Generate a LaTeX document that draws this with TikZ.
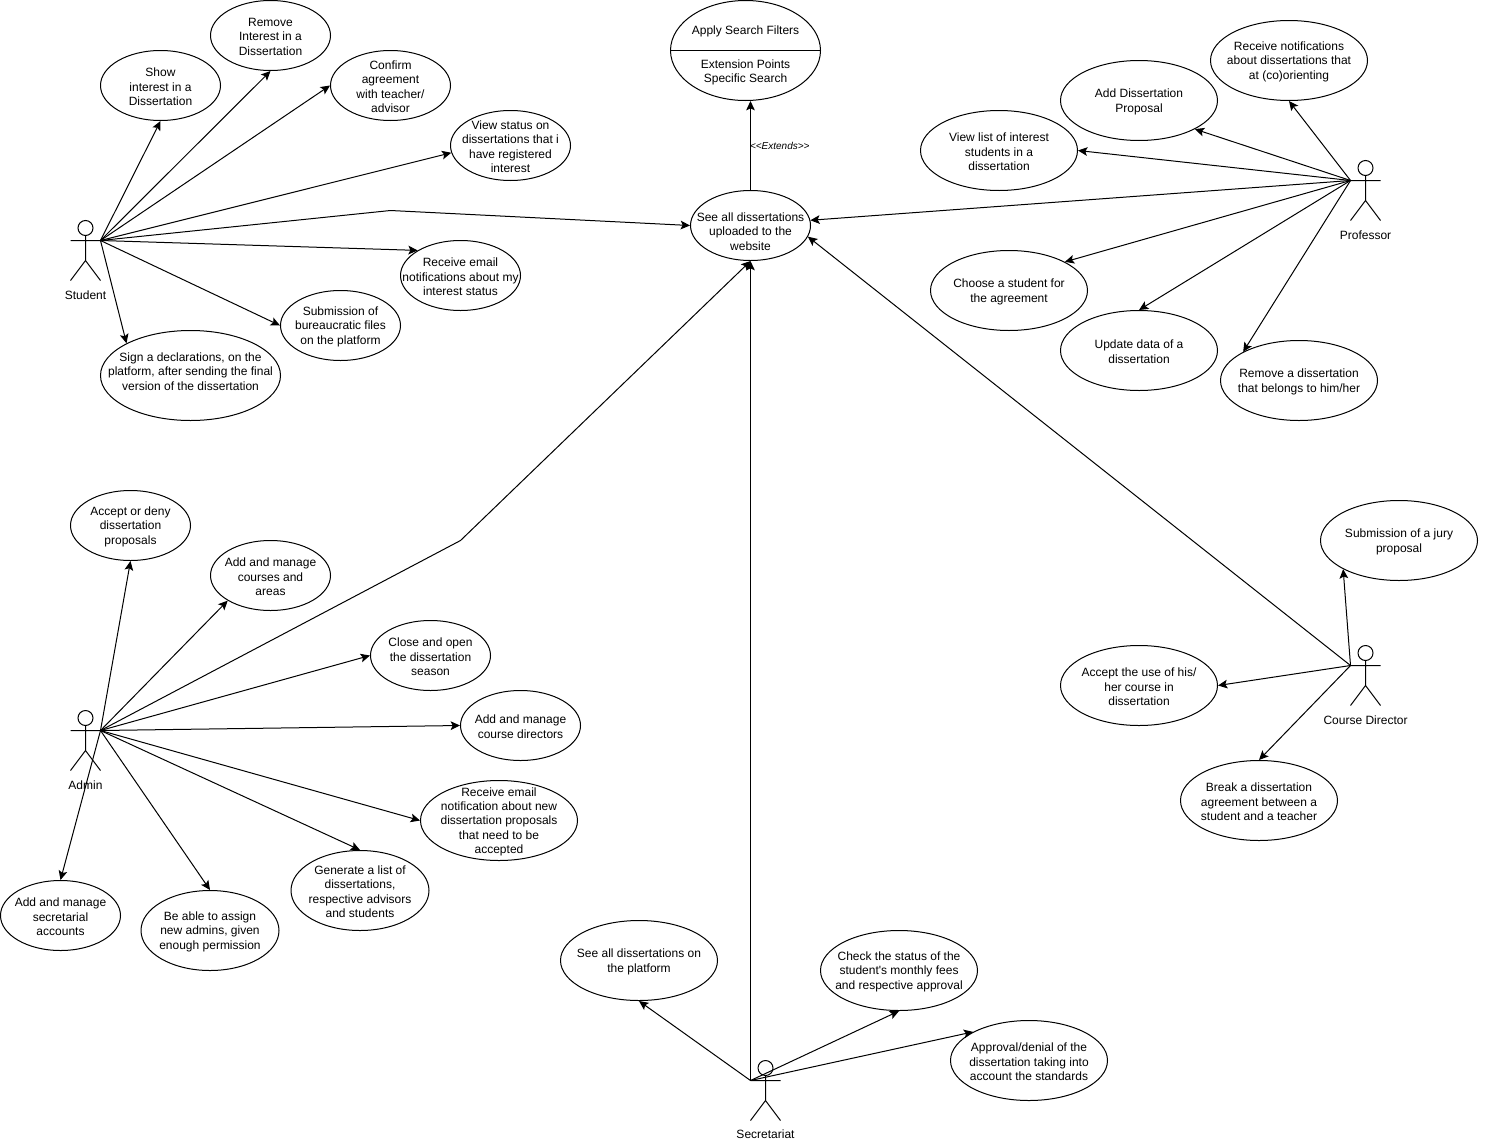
\documentclass[tikz,border=0pt]{standalone}
\usepackage{fontspec}
\usetikzlibrary{shapes.geometric, arrows.meta, positioning, calc}
\newfontfamily\ucfont{Liberation Sans}

\begin{document}
\begin{tikzpicture}[
  x=0.75pt, y=-0.75pt,
  line width=0.75pt,
  uctext/.style={font=\ucfont\fontsize{9}{10.8}\selectfont, align=center, inner sep=0pt},
  uclabel/.style={uctext, yshift=-1pt},
  ucsmall/.style={draw, ellipse, inner sep=0pt, minimum width=90pt, minimum height=52.5pt},
  ucwide/.style={draw, ellipse, inner sep=0pt, minimum width=117.75pt, minimum height=60pt},
  ucnarrow/.style={draw, ellipse, inner sep=0pt, minimum width=103.5pt, minimum height=60pt},
  flow/.style={-{Stealth[length=7pt, width=6.5pt, inset=1.5pt]}},
  stickman/.pic={
    \draw (15,7.5) circle [radius=7.5];
    \draw (15,15) -- (15,40) (0,20) -- (30,20) (0,60) -- (15,40) -- (30,60);
    \coordinate (-hand) at (0,20);
    \coordinate (-rhand) at (30,20);
  }
]
  \useasboundingbox (-0.5,-0.5) rectangle (1490.5,1141.5);

  % Actors
  \pic (student) at (70,220) {stickman};
  \pic (professor) at (1350,160) {stickman};
  \pic (director) at (1350,645) {stickman};
  \pic (admin) at (70,710) {stickman};
  \pic (secretariat) at (750,1060) {stickman};
  \node[uctext] (studentname) at (85,295) {Student};
  \node[uctext] (professorname) at (1365,235) {Professor};
  \node[uctext] (directorname) at (1365,720) {Course Director};
  \node[uctext] (adminname) at (85,785) {Admin};
  \node[uctext] (secretariatname) at (765,1134) {Secretariat};

  % Centre
  \node[ucsmall, label={[uctext, yshift=-4.5pt]center:See all dissertations\\uploaded to the\\website}] (seeall) at (750,225) {};
  \node[draw, ellipse, inner sep=0pt, minimum width=112.5pt, minimum height=75pt] (apply) at (745,50) {};
  \draw (apply.west) -- (apply.east);
  \node[uctext] (applytitle) at (745,31) {Apply Search Filters};
  \node[uctext] (applyext) at (745,72) {Extension Points\\Specific Search};
  \draw[flow] (seeall.north) -- (seeall.north |- apply.south) node[midway, right, xshift=-0.75pt, font=\ucfont\itshape\fontsize{7.5}{9}\selectfont, inner sep=0pt] (extends) {<<Extends>>};

  % Student
  \node[ucsmall, label={[uclabel]center:Show\\interest in a\\Dissertation}] (show) at (160,85) {};
  \node[ucsmall, label={[uclabel]center:Remove\\Interest in a\\Dissertation}] (removeint) at (270,35) {};
  \node[ucsmall, label={[uclabel]center:Confirm\\agreement\\with teacher/\\advisor}] (confirm) at (390,85) {};
  \node[ucsmall, label={[uclabel]center:View status on\\dissertations that i\\have registered\\interest}] (status) at (510,145) {};
  \node[ucsmall, label={[uclabel]center:Receive email\\notifications about my\\interest status}] (mailstudent) at (460,275) {};
  \node[ucsmall, label={[uclabel]center:Submission of\\bureaucratic files\\on the platform}] (bureau) at (340,325) {};
  \node[draw, ellipse, inner sep=0pt, minimum width=135pt, minimum height=67.5pt, label={[uctext, yshift=3pt]center:Sign a declarations, on the\\platform, after sending the final\\version of the dissertation}] (sign) at (190,375) {};
  \coordinate (studentbend) at (390,210);
  \draw[flow] (student-rhand) -- (show.south);
  \draw[flow] (student-rhand) -- (removeint.south);
  \draw[flow] (student-rhand) -- (confirm.west);
  \draw[flow] (student-rhand) -- (status.187);
  \draw[flow] (student-rhand) -- (studentbend) -- (seeall.west);
  \draw[flow] (student-rhand) -- (mailstudent.north west);
  \draw[flow] (student-rhand) -- (bureau.west);
  \draw[flow] (student-rhand) -- (sign.north west);

  % Professor
  \node[ucwide, label={[uclabel]center:Add Dissertation\\Proposal}] (addprop) at (1138.5,100) {};
  \node[ucwide, label={[uclabel]center:Receive notifications\\about dissertations that\\at (co)orienting}] (notify) at (1288.5,60) {};
  \node[ucwide, label={[uclabel]center:View list of interest\\students in a\\dissertation}] (viewlist) at (998.5,150) {};
  \node[ucwide, label={[uclabel]center:Choose a student for\\the agreement}] (choose) at (1008.5,290) {};
  \node[ucwide, label={[uclabel]center:Update data of a\\dissertation}] (update) at (1138.5,350) {};
  \node[ucwide, label={[uclabel]center:Remove a dissertation\\that belongs to him/her}] (removediss) at (1298.5,380) {};
  \draw[flow] (professor-hand) -- (addprop.south east);
  \draw[flow] (professor-hand) -- (notify.south);
  \draw[flow] (professor-hand) -- (viewlist.east);
  \draw[flow] (professor-hand) -- (seeall.5);
  \draw[flow] (professor-hand) -- (choose.north east);
  \draw[flow] (professor-hand) -- (update.north);
  \draw[flow] (professor-hand) -- (removediss.north west);

  % Course Director
  \node[ucwide, label={[uclabel]center:Submission of a jury\\proposal}] (jury) at (1398.5,540) {};
  \node[ucwide, label={[uclabel]center:Accept the use of his/\\her course in\\dissertation}] (acceptuse) at (1138.5,685) {};
  \node[ucwide, label={[uclabel]center:Break a dissertation\\agreement between a\\student and a teacher}] (breakagr) at (1258.5,800) {};
  \draw[flow] (director-hand) -- (jury.south west);
  \draw[flow] (director-hand) -- (acceptuse.east);
  \draw[flow] (director-hand) -- (breakagr.north);
  \draw[flow] (director-hand) -- (seeall.-11);

  % Admin
  \node[ucsmall, label={[uclabel]center:Accept or deny\\dissertation\\proposals}] (acceptdeny) at (130,525) {};
  \node[ucsmall, label={[uclabel]center:Add and manage\\courses and\\areas}] (courses) at (270,575) {};
  \node[ucsmall, label={[uclabel]center:Close and open\\the dissertation\\season}] (season) at (430,655) {};
  \node[ucsmall, label={[uclabel]center:Add and manage\\course directors}] (directors) at (520,725) {};
  \node[ucwide, label={[uclabel]center:Receive email\\notification about new\\dissertation proposals\\that need to be\\accepted}] (mailadmin) at (498.5,820) {};
  \node[ucnarrow, label={[uclabel]center:Generate a list of\\dissertations,\\respective advisors\\and students}] (generate) at (359.5,890) {};
  \node[ucsmall, label={[uclabel]center:Add and manage\\secretarial\\accounts}] (accounts) at (60,915) {};
  \node[ucnarrow, label={[uclabel]center:Be able to assign\\new admins, given\\enough permission}] (newadmins) at (209.5,930) {};
  \coordinate (adminbend) at (460,540);
  \draw[flow] (admin-rhand) -- (acceptdeny.south);
  \draw[flow] (admin-rhand) -- (courses.south west);
  \draw[flow] (admin-rhand) -- (adminbend) -- (seeall.south);
  \draw[flow] (admin-rhand) -- (season.west);
  \draw[flow] (admin-rhand) -- (directors.west);
  \draw[flow] (admin-rhand) -- (mailadmin.west);
  \draw[flow] (admin-rhand) -- (generate.north);
  \draw[flow] (admin-rhand) -- (newadmins.north);
  \draw[flow] (admin-rhand) -- (accounts.north);

  % Secretariat
  \node[ucwide, label={[uclabel]center:See all dissertations on\\the platform}] (platform) at (638.5,960) {};
  \node[ucwide, label={[uclabel]center:Check the status of the\\student's monthly fees\\and respective approval}] (fees) at (898.5,970) {};
  \node[ucwide, label={[uclabel]center:Approval/denial of the\\dissertation taking into\\account the standards}] (approval) at (1028.5,1060) {};
  \draw[flow] (secretariat-hand) -- (seeall.south);
  \draw[flow] (secretariat-hand) -- (platform.south);
  \draw[flow] (secretariat-hand) -- (fees.south);
  \draw[flow] (secretariat-hand) -- (approval.north west);
\end{tikzpicture}
\end{document}
